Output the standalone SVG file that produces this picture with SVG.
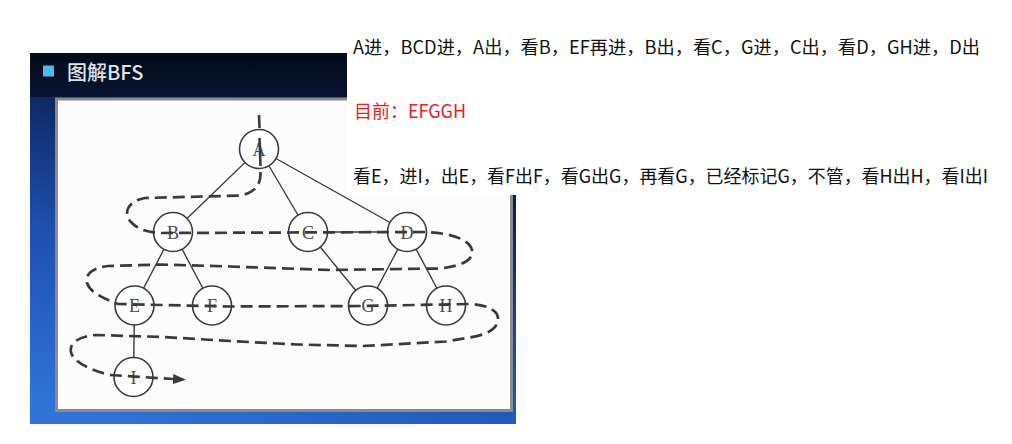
<svg xmlns="http://www.w3.org/2000/svg" width="1012" height="444" viewBox="0 0 1012 444">
<style>
.edge{stroke:#3c3c3c;stroke-width:1.4;fill:none}
.node circle{fill:#fdfdfd;stroke:#3a3a3a;stroke-width:1.6}
.node text{font-family:"Liberation Serif",serif;font-size:18px;fill:#4a4a4a;text-anchor:middle}
.trail{stroke:#3a3a3a;stroke-width:2.7;fill:none;stroke-dasharray:12 6}
.solidtrail{stroke:#3a3a3a;stroke-width:2.6;fill:none}
.note{font-family:"Noto Sans CJK SC","Noto Sans",sans-serif;font-size:18px;fill:#111}
</style>
<defs>
<linearGradient id="bg" x1="0.6" y1="0" x2="0.2" y2="1">
<stop offset="0" stop-color="#040a1c"/>
<stop offset="0.25" stop-color="#0b2259"/>
<stop offset="0.6" stop-color="#1d4fae"/>
<stop offset="1" stop-color="#2f72d8"/>
</linearGradient>
<linearGradient id="hdr" x1="0" y1="0" x2="0" y2="1">
<stop offset="0" stop-color="#030918"/>
<stop offset="1" stop-color="#081533"/>
</linearGradient>
<marker id="arr" markerUnits="userSpaceOnUse" markerWidth="13" markerHeight="10" viewBox="0 0 13 10" refX="0" refY="5" orient="auto">
<path d="M0,0 L13,5 L0,10 z" fill="#3a3a3a"/>
</marker>
</defs>
<rect width="1012" height="444" fill="#ffffff"/>
<g id="slide">
<rect x="30" y="53" width="486" height="371" fill="url(#bg)"/>
<rect x="30" y="53" width="486" height="44" fill="url(#hdr)"/>
<rect x="43" y="65.5" width="11" height="11" fill="#52b8f2"/>
<text x="67" y="79.5" font-family="Noto Sans CJK SC, Noto Sans, sans-serif" font-size="20" font-weight="500" fill="#dfe3ea">图解BFS</text>
<rect x="56.5" y="99" width="455" height="311.5" fill="#fcfcfc" stroke="#8a8a8a" stroke-width="3"/>
</g>
<g id="connectors">
<line class="edge" x1="259" y1="149" x2="173" y2="232"/>
<line class="edge" x1="259" y1="149" x2="308" y2="232"/>
<line class="edge" x1="259" y1="149" x2="407" y2="232"/>
<line class="edge" x1="308" y1="232" x2="407" y2="232"/>
<line class="edge" x1="173" y1="232" x2="134.5" y2="305.5"/>
<line class="edge" x1="173" y1="232" x2="212" y2="305.5"/>
<line class="edge" x1="308" y1="232" x2="368" y2="305.5"/>
<line class="edge" x1="407" y1="232" x2="368" y2="305.5"/>
<line class="edge" x1="407" y1="232" x2="446" y2="305.5"/>
<line class="edge" x1="134.5" y1="305.5" x2="133.5" y2="377"/>
</g>
<g id="node-A" class="node"><circle cx="259" cy="149" r="19.5"/><text x="259" y="156">A</text></g>
<g id="node-B" class="node"><circle cx="173" cy="232" r="19.5"/><text x="173" y="239">B</text></g>
<g id="node-C" class="node"><circle cx="308" cy="232" r="19.5"/><text x="308" y="239">C</text></g>
<g id="node-D" class="node"><circle cx="407" cy="232" r="19.5"/><text x="407" y="239">D</text></g>
<g id="node-E" class="node"><circle cx="134.5" cy="305.5" r="19.5"/><text x="134.5" y="312">E</text></g>
<g id="node-F" class="node"><circle cx="212" cy="305.5" r="19.5"/><text x="212" y="312">F</text></g>
<g id="node-G" class="node"><circle cx="368" cy="305.5" r="19.5"/><text x="368" y="312">G</text></g>
<g id="node-H" class="node"><circle cx="446" cy="305.5" r="19.5"/><text x="446" y="312">H</text></g>
<g id="node-I" class="node"><circle cx="133.5" cy="377" r="19.5"/><text x="133.5" y="384">I</text></g>
<g id="trail">
<line class="solidtrail" x1="259" y1="115" x2="259.5" y2="128"/>
<line class="solidtrail" x1="259.5" y1="138" x2="260.5" y2="166"/>
<path class="trail" marker-end="url(#arr)" d="M 260.5 172 C 261 184, 256 192, 241 195.5 L 145 198 C 127 201, 123 214, 131 222 C 137 229, 147 232, 158 233 L 425 232 C 452 233, 470 240, 472 250 C 474 260, 462 266, 440 268.5 L 330 270 L 230 266.5 L 160 264.5 L 108 266 C 90 268, 85 276, 87 283 C 90 292, 102 298, 118 304 L 230 306.5 L 360 306 L 470 304 C 490 305, 499 312, 498 320 C 497 330, 485 335, 470 337.5 L 446 341.5 L 363 346 L 297 344.5 L 230 341 L 163 337 L 96 335 C 78 336, 69 344, 71 352 C 73 362, 90 370, 110 375 L 173 379"/>
</g>
<rect x="347" y="0" width="665" height="195" fill="#ffffff"/>
<g id="notes">
<text class="note" x="353" y="54" textLength="627" lengthAdjust="spacingAndGlyphs">A进，BCD进，A出，看B，EF再进，B出，看C，G进，C出，看D，GH进，D出</text>
<text class="note" x="354" y="117.5" style="fill:#ec1c24" textLength="112" lengthAdjust="spacingAndGlyphs">目前：EFGGH</text>
<text class="note" x="353" y="182.5" textLength="635" lengthAdjust="spacingAndGlyphs">看E，进I，出E，看F出F，看G出G，再看G，已经标记G，不管，看H出H，看I出I</text>
</g>
</svg>
